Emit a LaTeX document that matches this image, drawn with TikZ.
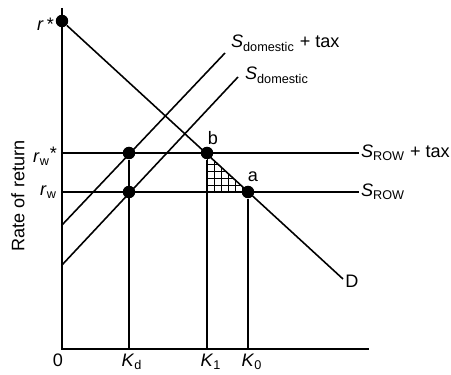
\documentclass[tikz,border=0pt]{standalone}
\usepackage{fontspec}
\setmainfont{Liberation Sans}
\usetikzlibrary{positioning,calc}
\tikzset{
    dot/.style={
        circle,
        fill=black,
        inner sep=0pt,
        minimum size=0.25cm
    },
    curve/.style={
        line width=0.9pt,
        black
    },
    axis/.style={
        line width=1pt,
        black
    },
    hatch/.style={
        line width=0.5pt,
        black
    },
    lbl/.style={
        inner sep=1pt,
        font=\fontsize{10.3}{12}\selectfont
    }
}

\begin{document}
\begin{tikzpicture}[x=0.02cm, y=-0.02cm]
    \useasboundingbox (0,0) rectangle (451,375);
    % axes
    \coordinate (O) at (62,349);
    \coordinate (ytop) at (62,8);
    \coordinate (xend) at (369,349);
    \draw[axis] (ytop) -- (O) -- (xend);
    % points
    \node[dot] (rstar) at (62,21) {};
    \node[dot] (kdtop) at (129,153) {};
    \node[dot] (kdlow) at (129,192) {};
    \node[dot] (b) at (207,153) {};
    \node[dot] (a) at (248,192) {};
    % hatched triangle
    \begin{scope}
        \clip (b.center) -- (b.center |- a.center) -- (a.center) -- cycle;
        \foreach \i in {0,...,6} {
            \draw[hatch] (207+7*\i,150) -- (207+7*\i,195);
            \draw[hatch] (204,192-7*\i) -- (252,192-7*\i);
        }
    \end{scope}
    % labels
    \node[lbl, anchor=east] (rstarlbl) at (56,24) {\textit{r}\,*};
    \node[lbl, anchor=east] (rwslbl) at (59,156) {\textit{r}\textsubscript{w}\raisebox{2pt}{*}};
    \node[lbl, anchor=east] (rwlbl) at (59,192) {\textit{r}\textsubscript{w}};
    \node[lbl, rotate=90] (ylbl) at (18,196) {Rate of return};
    \node[lbl, anchor=north] (olbl) at (58,352) {0};
    \node[lbl, anchor=north] (kdlbl) at (132,352) {\textit{K}\textsubscript{d}};
    \node[lbl, anchor=north] (konelbl) at (211,352) {\textit{K}\textsubscript{1}};
    \node[lbl, anchor=north] (kzerolbl) at (252,352) {\textit{K}\textsubscript{0}};
    \node[lbl] (blbl) at (213,138) {b};
    \node[lbl] (albl) at (253,177) {a};
    \node[lbl] (dlbl) at (352,281) {D};
    \node[lbl, anchor=west] (srowtax) at (359,153) {\textit{S}\textsubscript{ROW} + tax};
    \node[lbl, anchor=west] (srow) at (359,192) {\textit{S}\textsubscript{ROW}};
    \node[lbl, anchor=base west] (sdtlbl) at (229,48) {\textit{S}\textsubscript{domestic} + tax};
    \node[lbl, anchor=base west] (sdlbl) at (243,80) {\textit{S}\textsubscript{domestic}};
    % demand and supply
    \coordinate (dend) at (343,279);
    \coordinate (sdtlow) at (62,225);
    \coordinate (sdttop) at (225,53);
    \coordinate (sdlow) at (62,265);
    \coordinate (sdtop) at (238,77);
    \draw[curve] (rstar) -- (dend);
    \draw[curve] (sdtlow) -- (sdttop);
    \draw[curve] (sdlow) -- (sdtop);
    % world rates
    \draw[curve] (rstar |- kdtop) -- (srowtax.west);
    \draw[curve] (rstar |- kdlow) -- (srow.west);
    % quantities
    \draw[curve] (kdtop) -- (kdtop |- O);
    \draw[curve] (b) -- (b |- O);
    \draw[curve] (a) -- (a |- O);
\end{tikzpicture}
\end{document}
